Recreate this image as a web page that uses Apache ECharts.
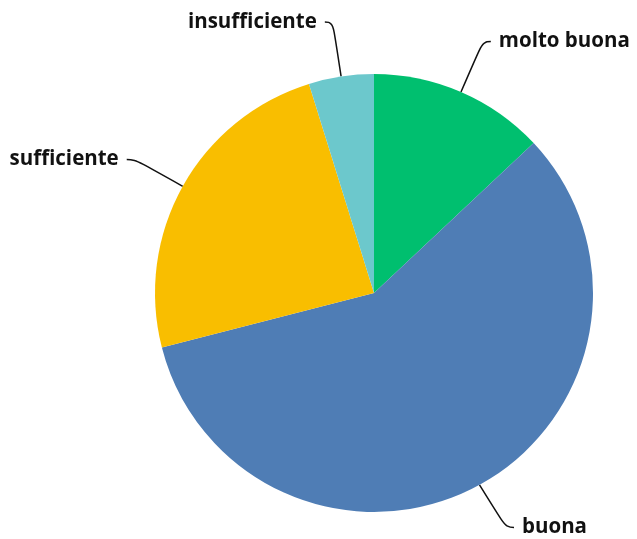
<!DOCTYPE html>
<html>
<head>
<meta charset="utf-8">
<script src="https://cdn.jsdelivr.net/npm/echarts@6/dist/echarts.min.js"></script>
<style>html,body{margin:0;padding:0;background:#fff}#c{width:637px;height:539px}</style>
</head>
<body>
<div id="c"></div>
<script>
const categories = ['molto buona', 'buona', 'sufficiente', 'insufficiente'];
const values = [13, 58, 24.2, 4.8];
const colors = ['#00BF6F', '#4F7DB5', '#F9BE00', '#6CC8CC'];

const chart = echarts.init(document.getElementById('c'), null, {renderer: 'canvas'});
chart.setOption({
  animation: false,
  backgroundColor: '#ffffff',
  series: [{
    type: 'pie',
    center: [374, 293],
    radius: 219,
    startAngle: 90,
    clockwise: true,
    data: categories.map((c, i) => ({name: c, value: values[i], itemStyle: {color: colors[i]}})),
    label: {
      show: true,
      formatter: '{b}',
      fontFamily: 'Open Sans',
      fontWeight: 'bold',
      fontSize: 20.5,
      color: '#111111',
      overflow: 'none',
      distanceToLabelLine: 8
    },
    labelLine: {
      show: true,
      length: 55,
      length2: 8,
      smooth: 0.5,
      lineStyle: {color: '#111111', width: 1.5}
    },
    itemStyle: {borderWidth: 0}
  }]
});
</script>
</body>
</html>
